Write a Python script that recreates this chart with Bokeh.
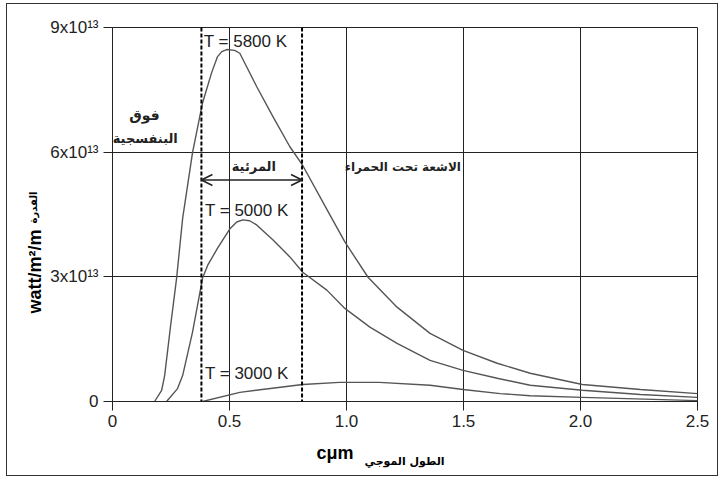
from bokeh.plotting import figure
from bokeh.models import Span, Label, Arrow, OpenHead, FixedTicker, Title
from bokeh.embed import file_html
from bokeh.resources import INLINE

# wavelength (micrometres) and spectral power (W/m^2/m)
x_5800 = [0.180, 0.210, 0.223, 0.248, 0.274, 0.300, 0.342, 0.385, 0.424, 0.449, 0.467, 0.488,
          0.522, 0.544, 0.616, 0.685, 0.758, 0.813, 0.929, 0.993, 1.092, 1.216, 1.357, 1.498,
          1.644, 1.785, 2.008, 2.256, 2.500]
y_5800 = [0.0, 0.27e13, 0.63e13, 1.81e13, 2.97e13, 4.42e13, 5.99e13, 7.19e13, 7.92e13, 8.30e13, 8.42e13, 8.47e13,
          8.45e13, 8.38e13, 7.58e13, 6.86e13, 6.13e13, 5.68e13, 4.49e13, 3.84e13, 2.99e13, 2.27e13, 1.64e13, 1.23e13,
          0.92e13, 0.68e13, 0.41e13, 0.29e13, 0.19e13]

x_5000 = [0.231, 0.278, 0.300, 0.342, 0.385, 0.407, 0.449, 0.501, 0.531, 0.557, 0.586, 0.616, 0.685,
          0.758, 0.813, 0.916, 0.993, 1.100, 1.216, 1.357, 1.498, 1.644, 1.785, 2.008,
          2.256, 2.500]
y_5000 = [0.0, 0.31e13, 0.63e13, 1.67e13, 2.97e13, 3.28e13, 3.69e13, 4.15e13, 4.32e13, 4.37e13, 4.35e13, 4.25e13, 3.89e13,
          3.48e13, 3.11e13, 2.68e13, 2.24e13, 1.79e13, 1.40e13, 0.99e13, 0.75e13, 0.56e13, 0.39e13, 0.27e13,
          0.17e13, 0.10e13]

x_3000 = [0.385, 0.544, 0.813, 0.970, 1.140, 1.357, 1.498, 1.657, 1.785, 2.008, 2.500]
y_3000 = [0.0, 0.22e13, 0.41e13, 0.46e13, 0.46e13, 0.39e13, 0.29e13, 0.19e13, 0.14e13, 0.10e13, 0.02e13]

visible_band = [0.38, 0.81]  # visible light limits (micrometres)

x_ticks = [0, 0.5, 1.0, 1.5, 2.0, 2.5]
x_tick_labels = ["0", "0.5", "1.0", "1.5", "2.0", "2.5"]
y_ticks = [0, 3e13, 6e13, 9e13]
y_tick_labels = ["0", "3x10¹³", "6x10¹³", "9x10¹³"]

LAT = "Liberation Sans"
AR = "DejaVu Sans"
INK = "#222222"
CURVE = "#555555"

p = figure(width=712, height=473, x_range=(0, 2.5), y_range=(0, 9e13),
           output_backend="svg", toolbar_location=None,
           min_border_left=105, min_border_right=22, min_border_top=23, min_border_bottom=76,
           background_fill_color="white", border_fill_color="white",
           outline_line_color=INK, outline_line_width=1)
p.styles = {"border": "1.5px solid #333333", "box-sizing": "border-box",
            "margin-left": "6px", "margin-top": "3px"}

# axes
p.xaxis.ticker = FixedTicker(ticks=x_ticks)
p.yaxis.ticker = FixedTicker(ticks=y_ticks)
p.xaxis.major_label_overrides = {t: l for t, l in zip(x_ticks, x_tick_labels)}
p.yaxis.major_label_overrides = {t: l for t, l in zip(y_ticks, y_tick_labels)}
for ax in (p.xaxis, p.yaxis):
    ax.axis_line_color = INK
    ax.axis_line_width = 1
    ax.major_tick_line_color = INK
    ax.major_tick_line_width = 1
    ax.major_tick_out = 9
    ax.major_tick_in = 0
    ax.minor_tick_line_color = None
    ax.major_label_text_font = LAT
    ax.major_label_text_font_size = "17px"
    ax.major_label_text_color = INK
p.xaxis.major_label_standoff = 4
p.yaxis.major_label_standoff = 5
# blank axis label used only as vertical spacing before the x title
p.xaxis.axis_label = " "
p.xaxis.axis_label_text_font_size = "20px"
p.xaxis.axis_label_standoff = 0

p.xgrid.ticker = FixedTicker(ticks=x_ticks)
p.ygrid.ticker = FixedTicker(ticks=y_ticks)
p.grid.grid_line_color = INK
p.grid.grid_line_width = 1
p.grid.grid_line_alpha = 1.0

# curves
p.line(x_5800, y_5800, line_color=CURVE, line_width=1.4)
p.line(x_5000, y_5000, line_color=CURVE, line_width=1.4)
p.line(x_3000, y_3000, line_color=CURVE, line_width=1.4)

# visible-band limits
for xv in visible_band:
    p.add_layout(Span(location=xv, dimension="height", line_color="black",
                      line_width=2, line_dash="4 2"))

# double arrow for visible band
arrow_y = 5.33e13
p.add_layout(Arrow(x_start=visible_band[0], x_end=visible_band[1], y_start=arrow_y, y_end=arrow_y,
                   line_color=INK, line_width=1.5,
                   start=OpenHead(size=11, line_color=INK, line_width=1.5),
                   end=OpenHead(size=11, line_color=INK, line_width=1.5)))

def lab(x, y, text, font, size, style="normal", align="left"):
    p.add_layout(Label(x=x, y=y, text=text, text_font=font, text_font_size=size,
                       text_font_style=style, text_align=align, text_baseline="middle",
                       text_color=INK))

lab(0.39, 8.67e13, "T = 5800 K", LAT, "17px")
lab(0.395, 4.59e13, "T = 5000 K", LAT, "17px")
lab(0.395, 0.68e13, "T = 3000 K", LAT, "17px")
lab(0.137, 6.90e13, "فوق", AR, "14px", "bold", "center")
lab(0.140, 6.33e13, "البنفسجية", AR, "13px", "bold", "center")
lab(0.604, 5.65e13, "المرئية", AR, "13px", "bold", "center")
lab(1.241, 5.65e13, "الاشعة تحت الحمراء", AR, "12px", "bold", "center")

# axis titles as side-panel titles
p.add_layout(Title(text="cμm", align="left", offset=204, standoff=-23, vertical_align="top",
                   text_font=LAT, text_font_size="18px", text_font_style="bold",
                   text_color="black"), "below")
p.add_layout(Title(text="الطول الموجي", align="left", offset=252, standoff=0, vertical_align="top",
                   text_font=AR, text_font_size="11px", text_font_style="bold",
                   text_color="black"), "below")
p.add_layout(Title(text="watt/m²/m", align="left", offset=88, standoff=5,
                   text_font=LAT, text_font_size="18px", text_font_style="bold",
                   text_color="black"), "left")
p.add_layout(Title(text="القدرة", align="left", offset=178, standoff=-37,
                   text_font=AR, text_font_size="10px", text_font_style="bold",
                   text_color="black"), "left")

open("out.html", "w").write(file_html(p, INLINE))
